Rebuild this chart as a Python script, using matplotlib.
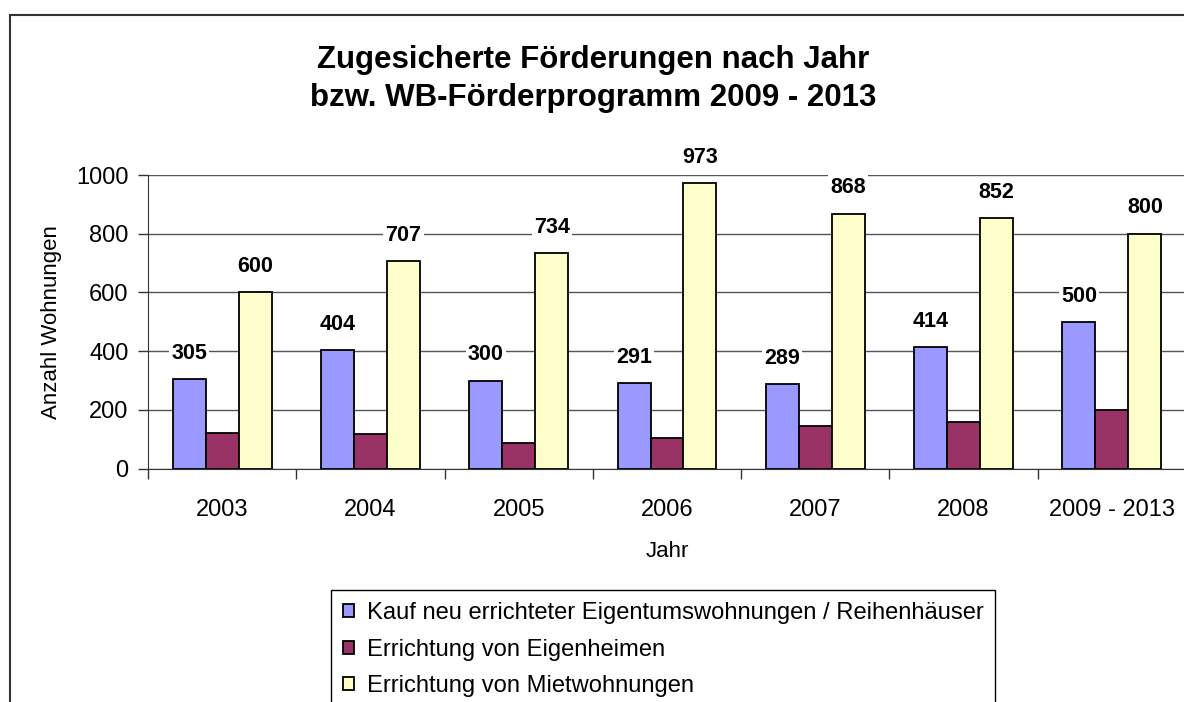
import numpy as np
import matplotlib
matplotlib.use('Agg')
import matplotlib.pyplot as plt
from matplotlib.patches import Rectangle

plt.rcParams['font.family'] = ['Liberation Sans', 'DejaVu Sans']

# Daten
jahre = ['2003', '2004', '2005', '2006', '2007', '2008', '2009 - 2013']
kauf = [305, 404, 300, 291, 289, 414, 500]
eigenheime = [123, 117, 87, 105, 145, 158, 200]
mietwohnungen = [600, 707, 734, 973, 868, 852, 800]
serien = ['Kauf neu errichteter Eigentumswohnungen / Reihenhäuser',
          'Errichtung von Eigenheimen',
          'Errichtung von Mietwohnungen']
farben = ['#9999FF', '#993366', '#FFFFCC']

fig = plt.figure(figsize=(11.84, 7.02), dpi=100)
ax = fig.add_axes([148 / 1184, 1 - 468.7 / 702, 1038 / 1184, (468.7 - 175) / 702])

x = np.arange(len(jahre))
w = 0.2225
b1 = ax.bar(x - w, kauf, w, color=farben[0], edgecolor='black', linewidth=1.3, label=serien[0], zorder=3)
b2 = ax.bar(x, eigenheime, w, color=farben[1], edgecolor='black', linewidth=1.3, label=serien[1], zorder=3)
b3 = ax.bar(x + w, mietwohnungen, w, color=farben[2], edgecolor='black', linewidth=1.3, label=serien[2], zorder=3)

# Beschriftung nur fuer blaue und gelbe Balken
for b in (b1, b3):
    ax.bar_label(b, padding=11, fontsize=15.5, fontweight='bold',
                 bbox=dict(facecolor='white', edgecolor='none', pad=1.5), zorder=4)

ax.set_xlim(-0.5, len(jahre) - 0.5)
ax.set_ylim(0, 1000)
ax.set_yticks([0, 200, 400, 600, 800, 1000])
ax.yaxis.grid(True, color='#555555', linewidth=1, zorder=0)
ax.tick_params(axis='y', labelsize=17, length=7, width=1, pad=7, color='#333333')

# Ticks zwischen den Kategorien, Beschriftung in der Mitte
ax.set_xticks(np.arange(-0.5, len(jahre), 1))
ax.set_xticklabels([])
ax.set_xticks(x, minor=True)
ax.set_xticklabels(jahre, minor=True)
ax.tick_params(axis='x', which='major', length=7, width=1, color='#333333')
ax.tick_params(axis='x', which='minor', length=0, labelsize=17, pad=22)

for s in ['top', 'right']:
    ax.spines[s].set_visible(False)
ax.spines['left'].set_color('#333333')
ax.spines['bottom'].set_color('#333333')

ax.set_ylabel('Anzahl Wohnungen', fontsize=16, labelpad=10)
ax.set_xlabel('Jahr', fontsize=16, labelpad=14)

fig.text(593 / 1184, 1 - 79 / 702,
         'Zugesicherte Förderungen nach Jahr\nbzw. WB-Förderprogramm 2009 - 2013',
         ha='center', va='center', fontsize=22.5, fontweight='bold', linespacing=1.32)

leg = fig.legend(loc='upper left', bbox_to_anchor=(331 / 1184, 1 - 590 / 702),
                 fontsize=17.1, frameon=True, fancybox=False, framealpha=1,
                 edgecolor='black', handlelength=0.45, handleheight=0.45,
                 handletextpad=0.55, labelspacing=0.62, borderpad=0.5, borderaxespad=0)
leg.get_frame().set_linewidth(1)

# aeusserer Rahmen
fig.patches.append(Rectangle((10 / 1184, -0.1), 1.2, 1 - 15 / 702 + 0.1,
                             transform=fig.transFigure, fill=False,
                             edgecolor='#333333', linewidth=1.5))

fig.savefig('out.png', dpi=100)
